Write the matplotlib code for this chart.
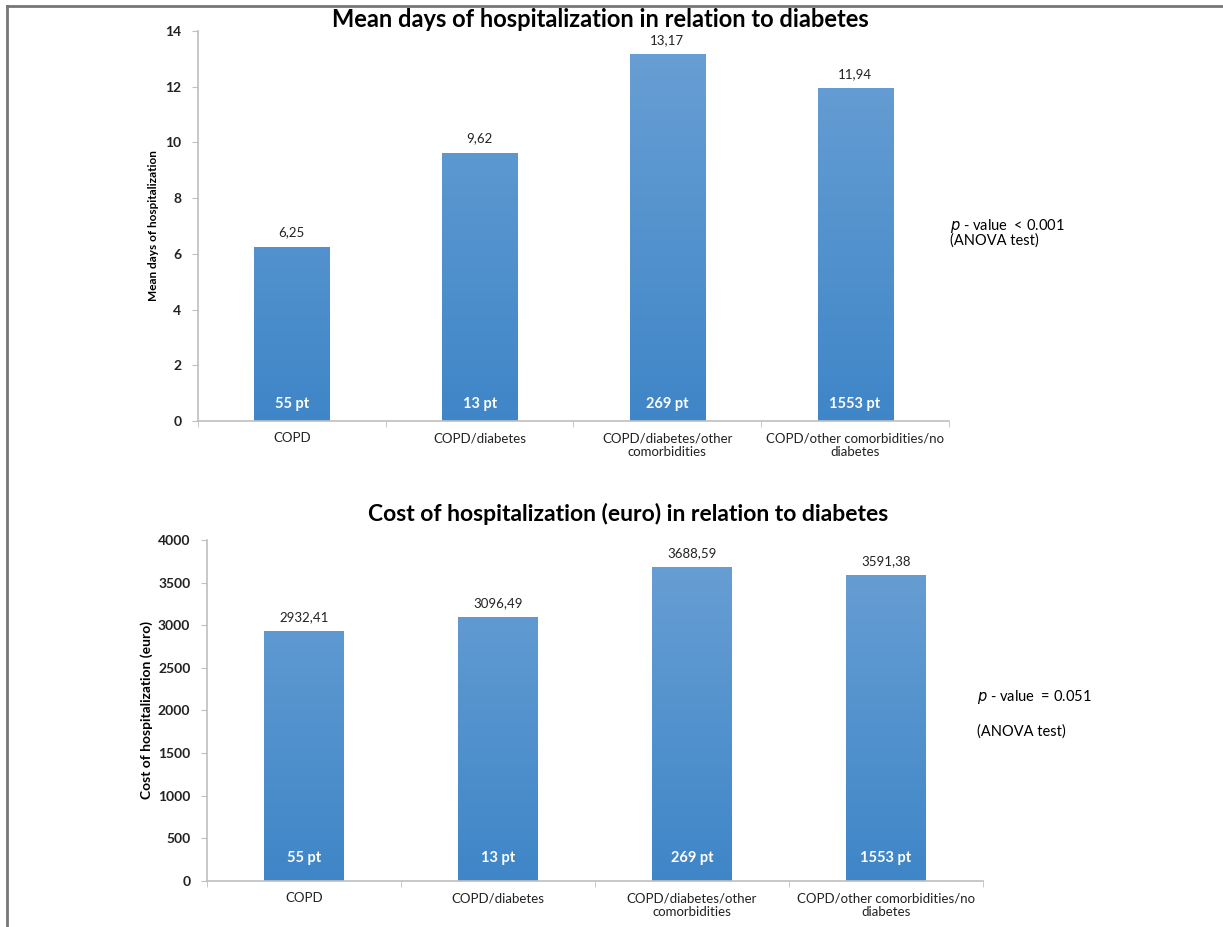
import numpy as np
import matplotlib
matplotlib.use("Agg")
from matplotlib import pyplot as plt
from matplotlib.colors import LinearSegmentedColormap
from matplotlib.ticker import FixedLocator, NullFormatter

plt.rcParams['font.family'] = ['Lato', 'DejaVu Sans']

categories = ['COPD', 'COPD/diabetes', 'COPD/diabetes/other\ncomorbidities',
              'COPD/other comorbidities/no\ndiabetes']
patients = ['55 pt', '13 pt', '269 pt', '1553 pt']
mean_days = [6.25, 9.62, 13.17, 11.94]
mean_days_labels = ['6,25', '9,62', '13,17', '11,94']
cost_euro = [2932.41, 3096.49, 3688.59, 3591.38]
cost_labels = ['2932,41', '3096,49', '3688,59', '3591,38']

degrade = LinearSegmentedColormap.from_list('barre', ['#3f86c8', '#6aa0d4'])
GRIS = '#bfbfbf'


def barres(ax, valeurs, etiquettes, ymax, pas, decal, ypt, largeur):
    x = np.arange(len(valeurs))
    rects = ax.bar(x, valeurs, width=largeur, color='none', zorder=2)
    grad = np.linspace(0, 1, 256).reshape(-1, 1)
    for r in rects:
        x0, w, h = r.get_x(), r.get_width(), r.get_height()
        im = ax.imshow(grad, cmap=degrade, origin='lower', aspect='auto',
                       extent=(x0, x0 + w, 0, ymax), zorder=2)
        im.set_clip_path(r)
    for xi, v, e in zip(x, valeurs, etiquettes):
        ax.text(xi, v + decal, e, ha='center', va='bottom', fontsize=9.5, color='#222222')
    for xi, p in zip(x, patients):
        ax.text(xi, ypt, p, ha='center', va='center', fontsize=10.5,
                color='white', fontweight='bold', zorder=3)
    ax.set_xlim(-0.5, len(valeurs) - 0.5)
    ax.set_ylim(0, ymax)
    ax.set_yticks(np.arange(0, ymax + 1e-9, pas))
    ax.xaxis.set_major_locator(FixedLocator(x))
    ax.set_xticklabels(categories, fontsize=9.5, color='#222222')
    ax.xaxis.set_minor_locator(FixedLocator(np.arange(-0.5, len(valeurs), 1.0)))
    ax.xaxis.set_minor_formatter(NullFormatter())
    ax.tick_params(axis='x', which='major', length=0, pad=8)
    ax.tick_params(axis='x', which='minor', length=4, color=GRIS, direction='out')
    ax.tick_params(axis='y', length=4, color=GRIS, labelsize=10, labelcolor='#222222', pad=8)
    for cote in ['top', 'right']:
        ax.spines[cote].set_visible(False)
    for cote in ['left', 'bottom']:
        ax.spines[cote].set_color(GRIS)
        ax.spines[cote].set_linewidth(1.2)
    for lab in ax.get_yticklabels():
        lab.set_fontweight('bold')


fig = plt.figure(figsize=(12.23, 9.27), dpi=100)

ax1 = fig.add_axes([0.1619, 0.5458, 0.614, 0.4208])
barres(ax1, mean_days, mean_days_labels, 14, 2, 0.3, 0.6, 0.4)
ax1.set_ylabel('Mean days of hospitalization', fontsize=8.5, fontweight='bold', labelpad=0)
ax1.yaxis.set_label_coords(-0.052, 0.5)
fig.text(0.491, 0.979, 'Mean days of hospitalization in relation to diabetes',
         ha='center', va='center', fontsize=17, fontweight='bold')
fig.text(0.777, 0.756, r'$p$ - value  < 0.001', fontsize=10.5, va='center')
fig.text(0.777, 0.740, '(ANOVA test)', fontsize=10.5, va='center')

ax2 = fig.add_axes([0.1693, 0.0496, 0.6345, 0.3679])
barres(ax2, cost_euro, cost_labels, 4000, 500, 90, 270, 0.41)
ax2.set_ylabel('Cost of hospitalization (euro)', fontsize=10, fontweight='bold', labelpad=0)
ax2.yaxis.set_label_coords(-0.07, 0.5)
fig.text(0.514, 0.446, 'Cost of hospitalization (euro) in relation to diabetes',
         ha='center', va='center', fontsize=16.5, fontweight='bold')
fig.text(0.799, 0.248, r'$p$ - value  = 0.051', fontsize=10.5, va='center')
fig.text(0.799, 0.211, '(ANOVA test)', fontsize=10.5, va='center')

# cadre gris en haut et a gauche
fig.add_artist(plt.Line2D([0.0057, 1.0], [0.994, 0.994], color='#777777', lw=2))
fig.add_artist(plt.Line2D([0.0057, 0.0057], [0.0, 0.994], color='#777777', lw=2))

fig.savefig('out.png', dpi=100)
